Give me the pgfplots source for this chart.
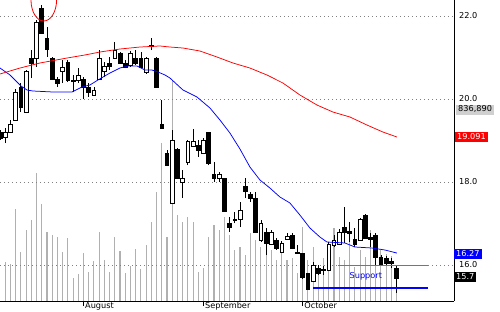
\documentclass[border=0pt]{standalone}
\usepackage{fontspec}
\setmainfont{DejaVu Sans}
\usepackage{pgfplots}
\usepackage{pgfplotstable}
\pgfplotsset{compat=1.18}

\definecolor{volgray}{HTML}{B0B0B0}
\definecolor{suppblue}{HTML}{6464FF}
\definecolor{lblgray}{HTML}{D0D0D0}

% candles: index, low, body bottom, body top, high, hollow(1)/filled(0)
\pgfplotstableread{
i lw lq uq uw c
0 19.013 19.061 19.205 19.253 0
1 18.940 19.085 19.205 19.302 1
2 19.181 19.205 19.398 19.494 1
3 19.470 19.494 20.169 20.241 1
4 19.687 19.808 20.290 20.386 0
5 19.663 19.687 20.675 20.699 1
6 20.506 20.868 20.988 21.181 0
7 20.772 20.988 21.856 21.904 1
8 21.591 21.591 22.193 22.266 0
9 21.013 21.205 21.470 21.735 0
10 20.458 20.482 20.988 21.013 0
11 20.290 20.386 20.482 20.531 0
12 20.386 20.675 20.772 20.940 1
13 20.410 20.458 20.892 20.940 0
14 20.169 20.434 20.458 20.579 0
15 20.386 20.458 20.579 20.747 1
16 20.000 20.290 20.482 20.531 0
17 20.049 20.169 20.290 20.386 0
18 20.073 20.097 20.217 20.290 1
19 20.458 20.482 20.988 21.181 1
20 20.531 20.675 20.796 20.892 1
21 20.699 20.796 20.868 21.013 0
22 20.964 20.988 21.181 21.374 1
23 20.844 20.868 21.109 21.133 0
24 20.747 20.772 20.868 20.940 0
25 20.772 20.820 21.109 21.157 1
26 20.820 20.868 20.988 21.181 0
27 20.747 20.772 20.988 21.133 0
28 20.603 20.651 20.988 21.013 1
29 21.181 21.278 21.302 21.470 0
30 20.290 20.290 20.988 21.013 0
31 19.302 19.302 19.398 19.976 0
32 18.386 18.410 18.699 18.772 0
33 17.470 17.494 19.013 19.253 1
34 18.097 18.097 18.796 18.820 0
35 17.615 18.000 18.097 18.290 1
36 18.410 18.482 18.988 19.013 1
37 18.844 18.868 18.988 19.278 1
38 18.603 18.772 18.892 19.013 0
39 18.675 18.699 19.013 19.061 1
40 18.410 18.458 19.205 19.205 0
41 18.000 18.097 18.193 18.482 0
42 18.000 18.097 18.193 18.241 1
43 17.278 17.302 18.097 18.097 0
44 16.796 16.916 17.012 17.157 0
45 17.012 17.084 17.109 17.278 0
46 16.916 17.109 17.326 17.519 1
47 17.615 17.784 17.904 18.097 0
48 17.519 17.615 17.711 17.760 0
49 16.796 16.796 17.615 17.760 0
50 16.555 16.603 17.012 17.084 1
51 16.241 16.531 16.796 16.892 0
52 16.482 16.507 16.796 16.844 1
53 16.362 16.410 16.603 16.651 0
54 16.289 16.314 16.531 16.579 1
55 16.603 16.627 16.699 16.771 1
56 16.386 16.410 16.723 16.771 0
57 16.289 16.289 16.314 16.482 0
58 15.663 15.711 16.289 16.289 0
59 15.398 15.422 15.808 15.808 0
60 15.591 15.615 16.000 16.073 1
61 15.759 15.808 15.928 16.000 0
62 15.759 15.880 15.904 15.976 0
63 15.856 15.880 16.507 16.555 1
64 16.434 16.482 16.603 16.723 1
65 16.482 16.507 16.796 16.868 1
66 16.531 16.796 16.916 17.398 0
67 16.555 16.771 16.820 17.036 0
68 16.434 16.507 16.627 16.892 0
69 16.579 16.603 17.109 17.133 1
70 16.627 16.651 17.205 17.229 0
71 16.434 16.627 16.675 16.771 0
72 16.000 16.193 16.723 16.771 0
73 15.976 16.024 16.193 16.241 0
74 15.976 16.048 16.169 16.217 0
75 15.928 16.048 16.097 16.169 0
76 15.326 15.687 15.928 16.000 0
}\candles

% volume (thousands)
\pgfplotstableread{
i vol
1 914
2 853
3 2139
4 1132
5 1651
6 1883
7 2976
8 2255
9 1604
10 1535
11 1488
12 1139
13 1465
14 535
15 628
16 1116
17 674
18 930
19 1604
20 953
21 674
22 1488
23 1163
24 651
25 814
26 1209
27 744
28 1302
29 1837
30 2534
31 3674
32 1488
33 5138
34 2000
35 1837
36 1953
37 1837
38 674
39 767
40 1488
41 1767
42 1651
43 1953
44 1535
45 1186
46 1256
47 1070
48 1581
49 1418
50 1256
51 1232
52 1186
53 953
54 1139
55 953
56 1000
57 651
58 1721
59 953
60 1256
61 837
62 1000
63 930
64 1697
65 1023
66 953
67 1488
68 791
69 1186
70 1023
71 1651
72 1349
73 1186
74 1093
75 1046
76 837
}\volume

\pgfplotstableread{
x y
0 20.747
1.92 20.579
4.02 20.314
5.17 20.217
6.32 20.193
10.15 20.169
13.79 20.169
15.71 20.290
17.24 20.338
18.77 20.458
21.07 20.627
22.99 20.747
24.52 20.796
26.25 20.796
27.78 20.699
29.12 20.699
30.27 20.651
31.61 20.579
32.57 20.506
35.06 20.217
37.74 20.049
40.23 19.784
42.15 19.494
44.06 19.181
45.98 18.796
47.89 18.362
49.81 18.049
51.72 17.856
53.64 17.639
55.56 17.494
57.47 17.205
59.39 16.892
61.30 16.675
62.64 16.555
66.09 16.531
68.01 16.434
71.26 16.410
73.75 16.362
76.05 16.289
}\mablue

\pgfplotstableread{
x y
0 20.603
3.83 20.747
7.66 20.868
12.84 20.988
16.28 21.061
19.16 21.133
22.99 21.205
26.82 21.253
30.65 21.278
32.57 21.253
35.06 21.229
38.31 21.157
41.57 21.013
44.64 20.868
47.89 20.747
51.15 20.579
54.21 20.386
57.47 20.097
60.73 19.856
63.79 19.687
67.05 19.567
70.31 19.374
73.37 19.205
76.05 19.085
}\mared

\pgfplotsset{
  base/.style={scale only axis, width=454bp, height=301bp, at={(0bp,0bp)}, anchor=south west, xmin=0, xmax=87},
}
\newcommand{\lblfont}{\fontsize{8.2}{9.8}\selectfont}

\begin{document}
\begin{tikzpicture}
\useasboundingbox (0bp,-11bp) rectangle (500bp,301bp);
\begin{axis}[base, ymin=0, ymax=7000, axis lines=none]
\addplot[ycomb, draw=volgray, line width=1.1bp] table[x=i,y=vol]{\volume};
\end{axis}
\begin{axis}[base, ymin=15.133, ymax=22.386,
  axis x line*=bottom, axis y line*=right,
  axis line style={line width=0.8bp, black},
  xtick={16,39,58}, xticklabels={August,September,October},
  ytick={16,18,20,22},
  ymajorgrids, grid style={dash pattern=on 0.8bp off 3.2bp, gray, line width=0.8bp},
  tick align=outside, major tick length=5bp,
  ytick style={draw=none}, xtick style={black, line width=0.8bp},
  xticklabel style={anchor=north west, inner sep=0pt, xshift=1.5bp, yshift=3.5bp},
  yticklabel style={anchor=west, inner sep=0pt, /pgf/number format/.cd, fixed, fixed zerofill, precision=1},
  every tick label/.append style={font=\lblfont},
  /pgf/number format/assume math mode=true,
]
\pgfplotsinvokeforeach{0,...,76}{
  \pgfplotstablegetelem{#1}{lw}\of\candles\let\cLW\pgfplotsretval
  \pgfplotstablegetelem{#1}{lq}\of\candles\let\cLQ\pgfplotsretval
  \pgfplotstablegetelem{#1}{uq}\of\candles\let\cUQ\pgfplotsretval
  \pgfplotstablegetelem{#1}{uw}\of\candles\let\cUW\pgfplotsretval
  \pgfplotstablegetelem{#1}{c}\of\candles\let\cCol\pgfplotsretval
  \pgfmathsetmacro{\xa}{#1-0.36}
  \pgfmathsetmacro{\xb}{#1+0.36}
  \edef\temp{\noexpand\addplot[black, line width=0.75bp] coordinates {(#1,\cLW) (#1,\cUW)};
    \noexpand\addplot[draw=black, line width=0.75bp, fill=\ifnum\cCol=1 white\else black\fi]
      coordinates {(\xa,\cLQ) (\xb,\cLQ) (\xb,\cUQ) (\xa,\cUQ)} -- cycle;}
  \temp
}
\addplot[blue, line width=0.75bp] table[x=x,y=y]{\mablue};
\addplot[red, line width=0.75bp] table[x=x,y=y]{\mared};
\addplot[suppblue, line width=1bp] coordinates {(64.8,16) (82,16)};
\addplot[blue, line width=2bp] coordinates {(60,15.458) (82,15.458)};
\node[text=blue, font=\lblfont] at (axis cs:70.1,15.735) {Support};
\coordinate (vb) at (axis cs:87,19.747);
\coordinate (rb) at (axis cs:87,19.073);
\coordinate (bb) at (axis cs:87,16.272);
\coordinate (kb) at (axis cs:87,15.711);
\coordinate (circ) at (axis cs:8.39,22.386);
\end{axis}
\tikzset{lbl/.style={anchor=west, font=\lblfont, inner xsep=2bp, inner ysep=1.2bp, text height=6.2bp, text depth=1.4bp}}
\node[lbl, fill=lblgray, xshift=2bp] at (vb) {836,890};
\node[lbl, fill=red, text=white, xshift=1bp] at (rb) {19.091};
\node[lbl, fill=blue, text=white] at (bb) {16.27};
\node[lbl, fill=black, text=white] at (kb) {15.7};
\draw[red, line width=0.8bp] (circ) ellipse [x radius=12.8bp, y radius=21bp];
\end{tikzpicture}
\end{document}
